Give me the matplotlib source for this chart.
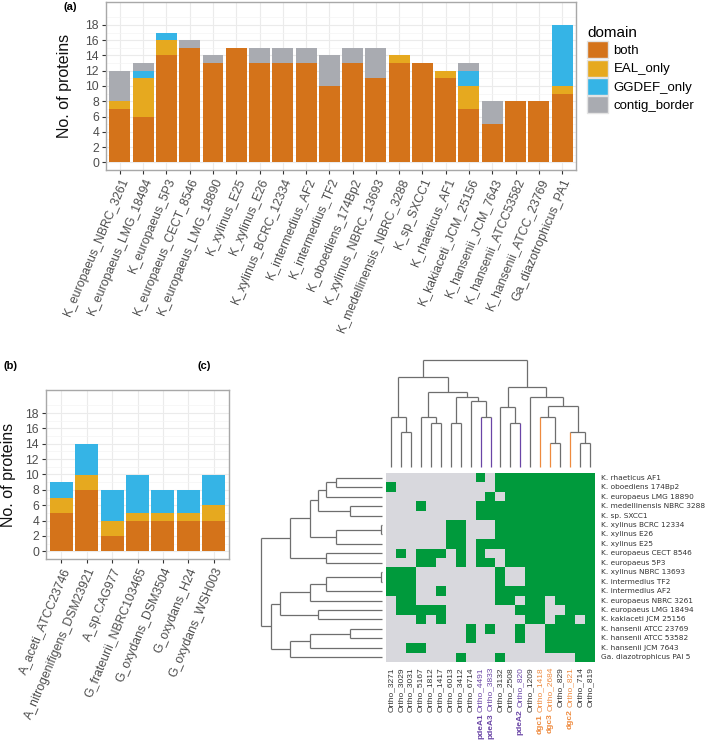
import numpy as np
import matplotlib.pyplot as plt
from matplotlib.patches import Patch
from matplotlib.colors import ListedColormap
import matplotlib.transforms as mtransforms

W, H = 709, 741
plt.rcParams['font.family'] = ['Liberation Sans', 'DejaVu Sans']

# ---- panel (a) / (b) data ----
domains = ["both", "EAL_only", "GGDEF_only", "contig_border"]
domain_colors = ["#D4731A", "#E6A91F", "#35B4E6", "#A9ABB1"]

strains_a = ["K_europaeus_NBRC_3261", "K_europaeus_LMG_18494", "K_europaeus_5P3",
             "K_europaeus_CECT_8546", "K_europaeus_LMG_18890", "K_xylinus_E25",
             "K_xylinus_E26", "K_xylinus_BCRC_12334", "K_intermedius_AF2",
             "K_intermedius_TF2", "K_oboediens_174Bp2", "K_xylinus_NBRC_13693",
             "K_medellinensis_NBRC_3288", "K_sp_SXCC1", "K_rhaeticus_AF1",
             "K_kakiaceti_JCM_25156", "K_hansenii_JCM_7643", "K_hansenii_ATCC53582",
             "K_hansenii_ATCC_23769", "Ga_diazotrophicus_PA1"]
both_a = [7, 6, 14, 15, 13, 15, 13, 13, 13, 10, 13, 11, 13, 13, 11, 7, 5, 8, 8, 9]
eal_a = [1, 5, 2, 0, 0, 0, 0, 0, 0, 0, 0, 0, 1, 0, 1, 3, 0, 0, 0, 1]
ggdef_a = [0, 1, 1, 0, 0, 0, 0, 0, 0, 0, 0, 0, 0, 0, 0, 2, 0, 0, 0, 8]
contig_a = [4, 1, 0, 1, 1, 0, 2, 2, 2, 4, 2, 4, 0, 0, 0, 1, 3, 0, 0, 0]

strains_b = ["A_aceti_ATCC23746", "A_nitrogenifigens_DSM23921", "A_sp.CAG977",
             "G_frateurii_NBRC103465", "G_oxydans_DSM3504", "G_oxydans_H24",
             "G_oxydans_WSH003"]
both_b = [5, 8, 2, 4, 4, 4, 4]
eal_b = [2, 2, 2, 1, 1, 1, 2]
ggdef_b = [2, 4, 4, 5, 3, 3, 4]
contig_b = [0, 0, 0, 0, 0, 0, 0]

# ---- panel (c) data ----
row_names = ["K. rhaeticus AF1", "K. oboediens 174Bp2", "K. europaeus LMG 18890",
             "K. medellinensis NBRC 3288", "K. sp. SXCC1", "K. xylinus BCRC 12334",
             "K. xylinus E26", "K. xylinus E25", "K. europaeus CECT 8546",
             "K. europaeus 5P3", "K. xylinus NBRC 13693", "K. intermedius TF2",
             "K. intermedius AF2", "K. europaeus NBRC 3261", "K. europaeus LMG 18494",
             "K. kakiaceti JCM 25156", "K. hansenii ATCC 23769", "K. hansenii ATCC 53582",
             "K. hansenii JCM 7643", "Ga. diazotrophicus PAI 5"]
col_names = ["Ortho_3271", "Ortho_3029", "Ortho_3031", "Ortho_5167", "Ortho_1812",
             "Ortho_1417", "Ortho_6013", "Ortho_3412", "Ortho_6714", "Ortho_4491",
             "Ortho_3833", "Ortho_3132", "Ortho_2508", "Ortho_820", "Ortho_1209",
             "Ortho_1418", "Ortho_2684", "Ortho_829", "Ortho_821", "Ortho_714", "Ortho_819"]
col_tags = ["", "", "", "", "", "", "", "", "", "pdeA1", "pdeA3", "", "", "pdeA2", "",
            "dgc1", "dgc3", "", "dgc2", "", ""]
presence = ["000000000101111111111",
            "100000000001111111111",
            "000000000010111111111",
            "000100000111111111111",
            "000000000111111111111",
            "000000110001111111111",
            "000000110001111111111",
            "000000110111111111111",
            "010111010100111111111",
            "000110010110111111111",
            "111000000001001111111",
            "111000000001001111111",
            "111001000001111111111",
            "011000000001101101111",
            "011111000000011100111",
            "000101000000001101101",
            "000000001010010011111",
            "000000001000010011111",
            "001100000000000011111",
            "000000010001000000011"]

# dendrograms: (child, child, height); nodes numbered after the leaves
top_merges = [(1, 2, 35), (0, 21, 50), (4, 5, 44), (3, 23, 50), (6, 7, 44),
              (9, 10, 50), (8, 26, 66), (25, 27, 70), (24, 28, 75), (22, 29, 90),
              (12, 13, 44), (11, 31, 60), (16, 17, 24), (15, 33, 50), (19, 20, 24),
              (18, 35, 35), (34, 36, 61), (14, 37, 70), (32, 38, 80), (30, 39, 107)]
left_merges = [(0, 1, 45.7), (20, 2, 55.7), (3, 4, 32.3), (21, 22, 64.3), (5, 6, 1),
               (24, 7, 45.7), (23, 25, 72.3), (8, 9, 55.7), (26, 27, 91.7), (10, 11, 1),
               (29, 12, 55.7), (30, 13, 72.3), (14, 15, 64.3), (31, 32, 101.7),
               (16, 17, 32.3), (34, 18, 72.3), (35, 19, 91.7), (33, 36, 111),
               (28, 37, 120.7)]

purple = "#6A45A6"
orange = "#EE8A3E"
tag_color = {"pdeA": purple, "dgc": orange}


def box(x0, y0, x1, y1):
    return [x0 / W, 1 - y1 / H, (x1 - x0) / W, (y1 - y0) / H]


def stacked(ax, labels, layers):
    x = np.arange(1, len(labels) + 1)
    bottom = np.zeros(len(labels))
    for vals, col in zip(layers, domain_colors):
        ax.bar(x, vals, 0.9, bottom=bottom, color=col, linewidth=0, zorder=2)
        bottom += np.array(vals)
    ax.set_xlim(0.4, len(labels) + 0.6)
    ax.set_ylim(-1, 21)
    ax.set_yticks(range(0, 19, 2))
    ax.set_yticks(range(1, 20, 2), minor=True)
    ax.set_xticks(x)
    ax.set_xticklabels(labels, rotation=67, ha='right', va='top',
                       rotation_mode='anchor', fontsize=11, color='#333333')
    ax.grid(which='major', color='#EBEBEB', lw=0.8, zorder=0)
    ax.grid(which='minor', axis='y', color='#F4F4F4', lw=0.5, zorder=0)
    ax.tick_params(which='minor', length=0)
    ax.tick_params(which='major', length=3, width=0.8, color='#333333',
                   labelsize=8.8, labelcolor='#4D4D4D', pad=2)
    for s in ax.spines.values():
        s.set_color('#A8A8A8')
        s.set_linewidth(1)
    ax.set_ylabel("No. of proteins", fontsize=11.5, color='#111111')


fig = plt.figure(figsize=(W / 100, H / 100), dpi=100)

ax_a = fig.add_axes(box(106, 2, 576, 170))
stacked(ax_a, strains_a, [both_a, eal_a, ggdef_a, contig_a])
ax_a.yaxis.set_label_coords(-0.072, 0.5)

ax_b = fig.add_axes(box(46, 390, 229, 559))
stacked(ax_b, strains_b, [both_b, eal_b, ggdef_b, contig_b])
ax_b.yaxis.set_label_coords(-0.165, 0.5)

handles = [Patch(facecolor=c, edgecolor='#E3E3E3', lw=1) for c in domain_colors]
fig.legend(handles, domains, title="domain", loc='upper left',
           bbox_to_anchor=(587 / W, 1 - 26 / H), frameon=False, fontsize=9.5,
           title_fontsize=11, handlelength=1.6, handleheight=1.6, labelspacing=0.1,
           handletextpad=0.4, borderaxespad=0, borderpad=0, alignment='left')

fig.text(63 / W, 1 - 7 / H, "(a)", fontsize=8, fontweight='bold', va='center')
fig.text(4 / W, 1 - 366 / H, "(b)", fontsize=8, fontweight='bold', va='center')
fig.text(198 / W, 1 - 366 / H, "(c)", fontsize=8, fontweight='bold', va='center')

# ---- heatmap ----
mat = np.array([[int(ch) for ch in r] for r in presence])
ax_h = fig.add_axes(box(386, 473, 595, 662))
ax_h.imshow(mat, cmap=ListedColormap(["#D8D8DD", "#009A3C"]), aspect='auto',
            interpolation='nearest', vmin=0, vmax=1)
ax_h.set_xlim(-0.5, len(col_names) - 0.5)
ax_h.set_ylim(len(row_names) - 0.5, -0.5)
ax_h.axis('off')

trans_r = mtransforms.blended_transform_factory(ax_h.transAxes, ax_h.transData)
for i, name in enumerate(row_names):
    ax_h.text(1 + 6 / 209, i, name, transform=trans_r, ha='left', va='center',
              fontsize=5.3, color='#333333', family='DejaVu Sans')

trans_c = mtransforms.blended_transform_factory(ax_h.transData, ax_h.transAxes)
col_texts = []
for j, name in enumerate(col_names):
    tag = col_tags[j]
    col = '#333333'
    for k, v in tag_color.items():
        if tag.startswith(k):
            col = v
    t = ax_h.text(j, -5 / 189, name, transform=trans_c, rotation=90, ha='center',
                  va='top', fontsize=6, color=col)
    col_texts.append((t, tag, col))

fig.canvas.draw()
renderer = fig.canvas.get_renderer()
for t, tag, col in col_texts:
    if not tag:
        continue
    bb = t.get_window_extent(renderer)
    xf, yf = fig.transFigure.inverted().transform(((bb.x0 + bb.x1) / 2, bb.y0 - 2))
    fig.text(xf, yf, tag, rotation=90, ha='center', va='top', fontsize=6,
             fontweight='bold', color=col)


def dendro(merges, n):
    pos = {i: float(i) for i in range(n)}
    hgt = {i: 0.0 for i in range(n)}
    segs = []
    for k, (a, b, h) in enumerate(merges):
        for c in (a, b):
            segs.append((pos[c], pos[c], hgt[c], h, c))
        segs.append((pos[a], pos[b], h, h, n + k))
        pos[n + k] = (pos[a] + pos[b]) / 2
        hgt[n + k] = h
    return segs


line_col = '#6E6E6E'
leaf_col = {}
for j, tag in enumerate(col_tags):
    for k, v in tag_color.items():
        if tag.startswith(k):
            leaf_col[j] = v

ax_t = fig.add_axes(box(386, 355, 595, 468))
for x0, x1, y0, y1, c in dendro(top_merges, len(col_names)):
    ax_t.plot([x0, x1], [y0, y1], color=leaf_col.get(c, line_col), lw=0.9,
              solid_capstyle='butt')
ax_t.set_xlim(-0.5, len(col_names) - 0.5)
ax_t.set_ylim(-1, 112)
ax_t.axis('off')

ax_l = fig.add_axes(box(250, 473, 383, 662))
for y0, y1, x0, x1, c in dendro(left_merges, len(row_names)):
    ax_l.plot([x0, x1], [y0, y1], color=line_col, lw=0.9, solid_capstyle='butt')
ax_l.set_xlim(132, -1)
ax_l.set_ylim(len(row_names) - 0.5, -0.5)
ax_l.axis('off')

fig.savefig("out.png", dpi=100)
